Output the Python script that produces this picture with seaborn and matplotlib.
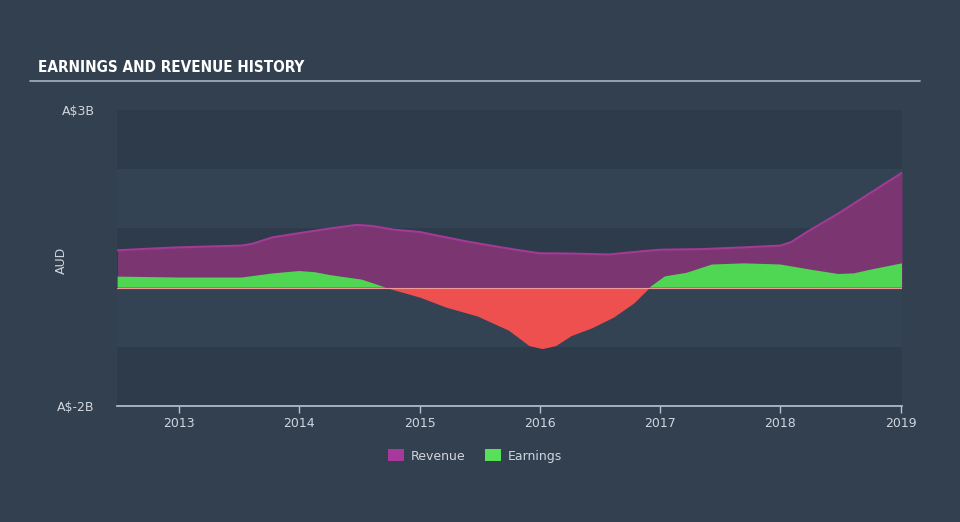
import numpy as np
import pandas as pd
import matplotlib
matplotlib.use("Agg")
import matplotlib.pyplot as plt
import seaborn as sns
from matplotlib.patches import Patch

# ---- data (A$ billions) ----
rev_years = [2012.49, 2012.78, 2013.0, 2013.52, 2013.61, 2013.78, 2014.0, 2014.26, 2014.48,
             2014.61, 2014.78, 2015.0, 2015.17, 2015.39, 2015.65, 2015.83, 2016.0, 2016.26,
             2016.57, 2016.83, 2017.0, 2017.35, 2017.7, 2018.0, 2018.09, 2018.22, 2018.48,
             2018.74, 2019.01]
revenue = [0.63, 0.66, 0.68, 0.71, 0.74, 0.85, 0.92, 1.0, 1.06,
           1.04, 0.98, 0.94, 0.87, 0.78, 0.69, 0.63, 0.58, 0.575,
           0.56, 0.61, 0.64, 0.65, 0.68, 0.71, 0.77, 0.94, 1.25,
           1.59, 1.94]

earn_years = [2012.49, 2013.0, 2013.52, 2013.78, 2014.0, 2014.13, 2014.26, 2014.52, 2014.72,
              2015.0, 2015.22, 2015.48, 2015.74, 2015.91, 2016.02, 2016.13, 2016.26, 2016.43,
              2016.61, 2016.78, 2016.91, 2017.04, 2017.22, 2017.43, 2017.7, 2018.0, 2018.26,
              2018.48, 2018.61, 2018.74, 2019.01]
earnings = [0.186, 0.17, 0.17, 0.24, 0.28, 0.26, 0.21, 0.135, 0.0,
            -0.16, -0.33, -0.48, -0.72, -0.98, -1.03, -0.98, -0.81, -0.68,
            -0.50, -0.26, 0.0, 0.19, 0.25, 0.39, 0.41, 0.39, 0.30,
            0.23, 0.24, 0.30, 0.41]

tick_years = [2013, 2014, 2015, 2016, 2017, 2018, 2019]
ytick_vals = [3, -2]
ytick_labels = ["A$3B", "A$-2B"]

# ---- styling ----
BG = "#334050"
BAND_DARK = "#2e3b4a"
BAND_LIGHT = "#334354"
PURPLE_FILL = "#7b3672"
PURPLE_LINE = "#a33a95"
GREEN = "#4fd653"
RED = "#ee5050"
TXT = "#d0d6de"

sns.set_theme(style="dark")
plt.rcParams["font.family"] = ["DejaVu Sans"]

fig = plt.figure(figsize=(9.6, 5.22), dpi=100, facecolor=BG)
ax = fig.add_axes([117/960, 1-406/522, (902-117)/960, (406-110)/522])
ax.set_facecolor(BG)

x0, x1 = 2012.485, 2019.01
ax.set_xlim(x0, x1)
ax.set_ylim(-2, 3)

# alternating bands
for lo in range(-2, 3):
    col = BAND_LIGHT if lo in (1, -1) else BAND_DARK
    ax.axhspan(lo, lo + 1, color=col, lw=0, zorder=0)

# revenue
rev_df = pd.DataFrame({"year": rev_years, "value": revenue})
ax.fill_between(rev_df["year"], 0, rev_df["value"], color=PURPLE_FILL, lw=0, zorder=1)
sns.lineplot(data=rev_df, x="year", y="value", color=PURPLE_LINE, lw=1.5, ax=ax, zorder=2)

# earnings
e_df = pd.DataFrame({"year": earn_years, "value": earnings})
ey = np.array(earnings)
ax.fill_between(e_df["year"], 0, ey, where=ey >= 0, interpolate=True, color=GREEN, lw=0, zorder=3)
ax.fill_between(e_df["year"], 0, ey, where=ey <= 0, interpolate=True, color=RED, lw=0, zorder=3)
ax.axhline(0, color="#f09a9a", lw=0.8, zorder=4)

ax.set_xlabel("")
ax.set_ylabel("AUD", color=TXT, fontsize=9)
ax.yaxis.set_label_coords((68-117)/785, (406-260)/296)
ax.set_xticks(tick_years)
ax.set_xticklabels([str(t) for t in tick_years], color=TXT, fontsize=9)
ax.set_yticks(ytick_vals)
ax.set_yticklabels(ytick_labels, color=TXT, fontsize=9)
ax.tick_params(axis="x", length=5, color="#b9c4d0", width=1, pad=3, bottom=True)
ax.tick_params(axis="y", length=0, pad=16)
ax.grid(False)
for s in ["top", "left", "right"]:
    ax.spines[s].set_visible(False)
ax.spines["bottom"].set_color("#b9c4d0")
ax.spines["bottom"].set_linewidth(1.2)

# title and rule
fig.text(38/960, 1-68/522, "EARNINGS AND REVENUE HISTORY", color="white", fontsize=11,
         fontweight="bold", family=["Liberation Sans Narrow", "DejaVu Sans"], va="center",
         fontstretch="condensed")
fig.add_artist(plt.Line2D([30/960, 920/960], [1-81/522, 1-81/522], color="#a9b3be", lw=1.2))

# legend
handles = [Patch(facecolor="#a8389c", edgecolor="none", label="Revenue"),
           Patch(facecolor="#58e158", edgecolor="none", label="Earnings")]
leg = fig.legend(handles=handles, loc="center", bbox_to_anchor=(475/960, 1-456/522), ncol=2,
                 frameon=False, fontsize=9, handlelength=1.3, handleheight=1.1,
                 handletextpad=0.5, columnspacing=1.6)
for t in leg.get_texts():
    t.set_color(TXT)

fig.savefig("out.png", dpi=100, facecolor=BG)
